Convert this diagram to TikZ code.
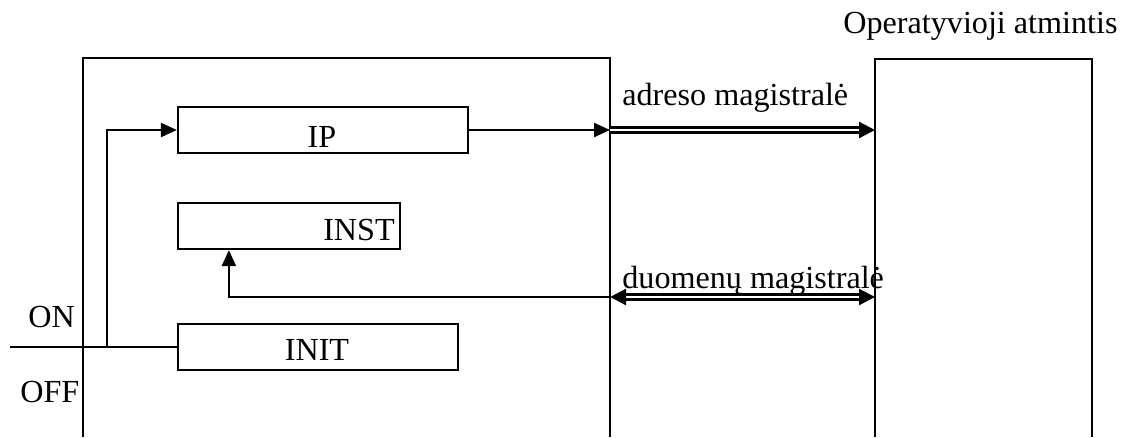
\documentclass[tikz,border=0pt]{standalone}
\usepackage{fontspec}
\setmainfont{Liberation Serif}
\usetikzlibrary{arrows.meta,calc}
\tikzset{
  reg/.style={draw, line width=1.3pt, inner sep=0pt, minimum height=0.92cm},
  txt/.style={inner sep=0pt, anchor=base, font=\fontsize{18.3}{21}\selectfont},
  arr/.style={line width=1.3pt, -{Triangle[length=0.32cm,width=0.28cm]}},
  bus/.style={double, line width=1.3pt, double distance=1.5pt,
    {Triangle[length=0.32cm,width=0.32cm]}-{Triangle[length=0.32cm,width=0.32cm]}},
  busr/.style={double, line width=1.3pt, double distance=1.5pt,
    -{Triangle[length=0.32cm,width=0.32cm]}}
}
\begin{document}
\begin{tikzpicture}[x=0.02cm,y=-0.02cm]
\useasboundingbox (0,0) rectangle (1125,437);
% processor and memory
\draw[line width=1.3pt] (83,437) -- (83,58) -- (610,58) -- (610,437);
\draw[line width=1.3pt] (875,437) -- (875,59) -- (1092,59) -- (1092,437);
\node[txt, anchor=base west] (mem) at (843,33) {Operatyvioji atmintis};
% registers
\node[reg, minimum width=5.8cm] (ip) at (323,130) {};
\node[reg, minimum width=4.44cm] (inst) at (289,226) {};
\node[reg, minimum width=5.6cm] (init) at (318,347) {};
\node[txt] (iplbl) at (322,147) {IP};
\node[txt] (instlbl) at (359,240) {INST};
\node[txt] (initlbl) at (317,360) {INIT};
% bus ends
\coordinate (cpuA) at (610,130);
\coordinate (memA) at (875,130);
\coordinate (cpuD) at (610,297);
\coordinate (memD) at (875,297);
\coordinate (in) at (10,347);
\coordinate (br) at (107,347);
% connectors
\draw[line width=1.3pt] (in) -- (init.west);
\draw[arr] (br) |- (ip.west);
\draw[arr] (ip.east) -- (cpuA);
\draw[busr] (cpuA) -- (memA);
\draw[arr] (cpuD) -| ($(inst.south west)+(52,0)$);
\draw[bus] (cpuD) -- (memD);
% labels
\node[txt, anchor=base west] (alab) at (622,105) {adreso magistralė};
\node[txt, anchor=base west] (dlab) at (622,288) {duomenų magistralė};
\node[txt, anchor=base west] (on) at (28,327) {ON};
\node[txt, anchor=base west] (off) at (20,402) {OFF};
\end{tikzpicture}
\end{document}
